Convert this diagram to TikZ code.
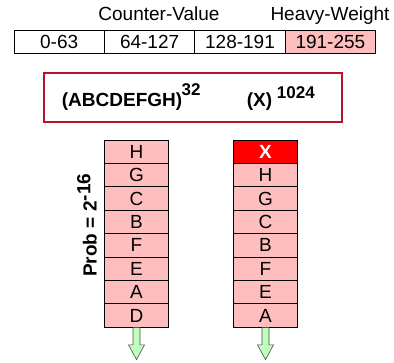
\documentclass[tikz,border=0pt]{standalone}
\usepackage{fontspec}
\setmainfont{Liberation Sans}
\usetikzlibrary{calc}
\definecolor{cellpink}{RGB}{255,190,190}
\definecolor{boxred}{RGB}{185,18,45}
\definecolor{hotred}{RGB}{255,0,0}
\definecolor{arrowgreen}{RGB}{190,255,190}
\tikzset{
  tcell/.style={draw, line width=0.8pt, minimum width=90.4pt, minimum height=23.3pt, inner sep=0pt, font=\fontsize{19}{21}\selectfont},
  scell/.style={draw, line width=0.8pt, fill=cellpink, minimum width=64.4pt, minimum height=23.4pt, inner sep=0pt, font=\fontsize{19}{21}\selectfont},
  hdr/.style={anchor=base, inner sep=0pt, font=\fontsize{19}{21}\selectfont},
  downarrow/.style={draw=black!70, line width=0.6pt, fill=arrowgreen},
}
\begin{document}
\begin{tikzpicture}[x=1pt,y=-1pt]
\useasboundingbox (0,0) rectangle (394,362);
% header labels
\node[hdr] (cv) at (159,20.7) {Counter-Value};
\node[hdr] (hw) at (330,20.7) {Heavy-Weight};
% table
\node[tcell] (c1) at (59.2,41.65) {0-63};
\node[tcell] (c2) at (149.6,41.65) {64-127};
\node[tcell] (c3) at (240,41.65) {128-191};
\node[tcell, fill=cellpink] (c4) at (330.4,41.65) {191-255};
% red box
\node[draw=boxred, line width=2pt, minimum width=297.4pt, minimum height=49pt, inner sep=0pt] (box) at (193,97.2) {};
\node[anchor=base west, inner sep=0pt, font=\fontsize{19}{21}\selectfont\bfseries] (seq) at (61.7,106) {(ABCDEFGH)};
\node[anchor=base west, inner sep=0pt, font=\fontsize{17}{19}\selectfont\bfseries] (e32) at (181.5,95) {32};
\node[anchor=base west, inner sep=0pt, font=\fontsize{19}{21}\selectfont\bfseries] (xx) at (246.7,106) {(X)};
\node[anchor=base west, inner sep=0pt, font=\fontsize{17}{19}\selectfont\bfseries] (e1024) at (276.7,98) {1024};
% left stack
\foreach \t [count=\i] in {H,G,C,B,F,E,A,D}{
  \node[scell] (L\i) at (136.5,{140+23.4*(\i-0.5)}) {\t};
}
% right stack
\node[scell, fill=hotred, text=white, font=\fontsize{19}{21}\selectfont\bfseries] (R1) at (265.5,{140+23.4*0.5}) {X};
\foreach \t [count=\i from 2] in {H,G,C,B,F,E,A}{
  \node[scell] (R\i) at (265.5,{140+23.4*(\i-0.5)}) {\t};
}
% prob label
\node[rotate=90, inner sep=0pt, font=\fontsize{19}{21}\selectfont\bfseries] (prob) at (87,225) {Prob = 2$^{\textbf{-16}}$};
% arrows
\foreach \n in {L8,R8}{
  \draw[downarrow] ($(\n.south)+(-3.5,0)$) -- ($(\n.south)+(3.5,0)$) -- ($(\n.south)+(3.5,17.3)$) -- ($(\n.south)+(8,17.3)$)
     -- ($(\n.south)+(0,32)$) -- ($(\n.south)+(-8,17.3)$) -- ($(\n.south)+(-3.5,17.3)$) -- cycle;
}
\end{tikzpicture}
\end{document}
